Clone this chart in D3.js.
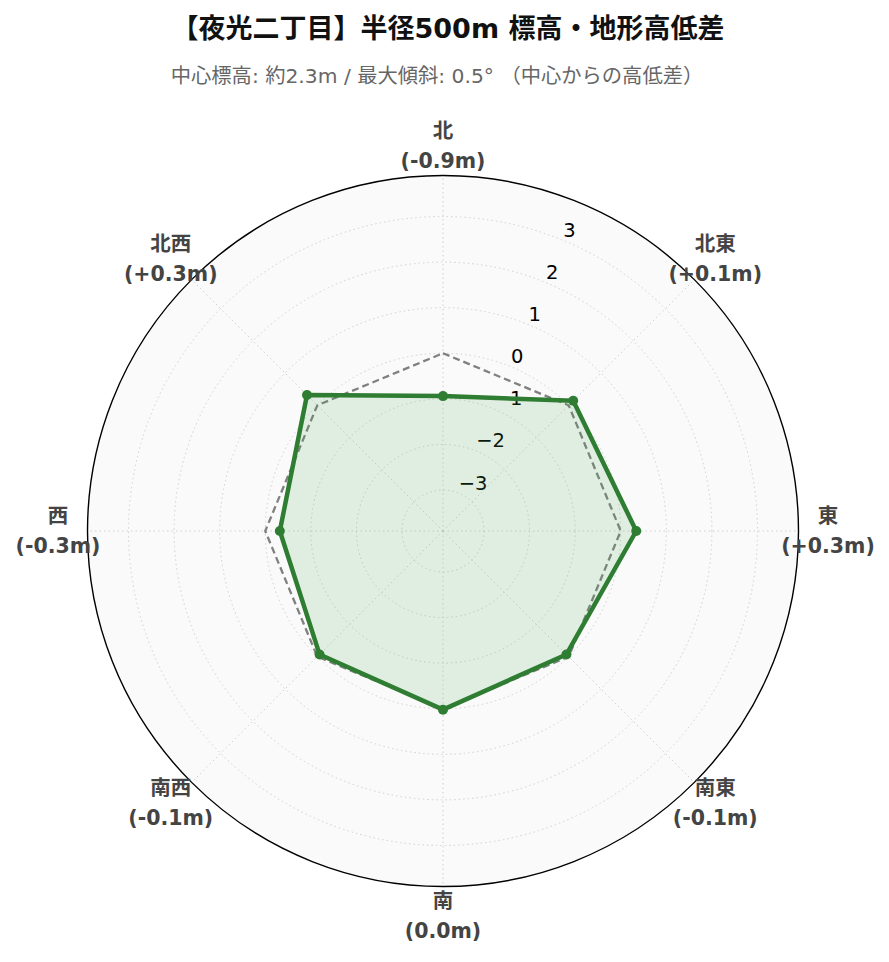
<!DOCTYPE html>
<html>
<head>
<meta charset="utf-8">
<script src="https://cdn.jsdelivr.net/npm/d3@7"></script>
<style>
  html, body { margin: 0; padding: 0; background: #ffffff; }
  svg { display: block; }
  text { font-family: "DejaVu Sans", "Noto Sans CJK JP", sans-serif; }
</style>
</head>
<body>
<svg id="chart" width="889" height="962"></svg>
<script>
// ---- data ----
const directions = ["北", "北東", "東", "南東", "南", "南西", "西", "北西"];
const heightDiff = [-0.94, 0.14, 0.34, -0.07, 0.02, -0.07, -0.32, 0.32];
const referenceLevel = [0, 0, 0, 0, 0, 0, 0, 0];
const radialTicks = [-3, -2, -1, 0, 1, 2, 3];
const radialRange = [-3.9, 3.9];
const titleText = "【夜光二丁目】半径500m 標高・地形高低差";
const subtitleText = "中心標高: 約2.3m / 最大傾斜: 0.5° （中心からの高低差）";

// ---- layout ----
const W = 889, H = 962;
const cx = 443, cy = 531, R = 355.5;
const svg = d3.select("#chart");
svg.append("rect").attr("width", W).attr("height", H).attr("fill", "#ffffff");

const r = d3.scaleLinear().domain(radialRange).range([0, R]);
// angle for index i: clockwise from north
const angleOf = (i) => (i * 360 / directions.length) * Math.PI / 180;
const px = (i, v) => cx + r(v) * Math.sin(angleOf(i));
const py = (i, v) => cy - r(v) * Math.cos(angleOf(i));

const g = svg.append("g");

// background disk
g.append("circle").attr("cx", cx).attr("cy", cy).attr("r", R).attr("fill", "#fafafa");

// grid circles
g.selectAll("circle.grid").data(radialTicks).join("circle")
  .attr("class", "grid")
  .attr("cx", cx).attr("cy", cy).attr("r", d => r(d))
  .attr("fill", "none").attr("stroke", "#d0d0d0").attr("stroke-width", 1)
  .attr("stroke-dasharray", "1.5,3");

// radial spokes
g.selectAll("line.spoke").data(directions).join("line")
  .attr("class", "spoke")
  .attr("x1", cx).attr("y1", cy)
  .attr("x2", (d, i) => px(i, radialRange[1])).attr("y2", (d, i) => py(i, radialRange[1]))
  .attr("stroke", "#d0d0d0").attr("stroke-width", 1).attr("stroke-dasharray", "1.5,3");

// outer circle
g.append("circle").attr("cx", cx).attr("cy", cy).attr("r", R)
  .attr("fill", "none").attr("stroke", "#000").attr("stroke-width", 1.4);

// radial tick labels at 22.5° from north
const tickAng = 22.5 * Math.PI / 180;
g.selectAll("text.tick").data(radialTicks).join("text")
  .attr("class", "tick")
  .attr("x", d => cx + r(d) * Math.sin(tickAng))
  .attr("y", d => cy - r(d) * Math.cos(tickAng) - 10)
  .attr("dominant-baseline", "central")
  .attr("text-anchor", "start")
  .attr("font-size", 19.5).attr("fill", "#000")
  .text(d => d3.format("")(d).replace("-", "\u2212"));

// reference dashed octagon
const lineGen = d3.line().x(d => d[0]).y(d => d[1]).curve(d3.curveLinearClosed);
g.append("path")
  .attr("d", lineGen(referenceLevel.map((v, i) => [px(i, v), py(i, v)])))
  .attr("fill", "none").attr("stroke", "#808080").attr("stroke-width", 2.3)
  .attr("stroke-dasharray", "7,4");

// data polygon
const pts = heightDiff.map((v, i) => [px(i, v), py(i, v)]);
g.append("path").attr("d", lineGen(pts))
  .attr("fill", "rgba(76,175,80,0.15)")
  .attr("stroke", "#2e7d32").attr("stroke-width", 4.5).attr("stroke-linejoin", "round");
g.selectAll("circle.pt").data(pts).join("circle")
  .attr("class", "pt")
  .attr("cx", d => d[0]).attr("cy", d => d[1]).attr("r", 5)
  .attr("fill", "#2e7d32");

// direction labels
const fmt = v => {
  const rv = Math.round(v * 10) / 10;
  return "(" + (rv > 0 ? "+" : "") + rv.toFixed(1) + "m)";
};
const labelR = 385;
const lab = g.selectAll("text.dir").data(directions).join("text")
  .attr("class", "dir")
  .attr("text-anchor", "middle")
  .attr("font-size", 20.5).attr("font-weight", "bold").attr("fill", "#444");
lab.each(function(d, i) {
  const x = cx + labelR * Math.sin(angleOf(i));
  const y = cy - labelR * Math.cos(angleOf(i));
  const t = d3.select(this);
  t.append("tspan").attr("x", x).attr("y", y - 15).attr("dominant-baseline", "central").text(d);
  t.append("tspan").attr("x", x).attr("y", y + 15).attr("dominant-baseline", "central").text(fmt(heightDiff[i]));
});

// titles
svg.append("text").attr("x", 448).attr("y", 28)
  .attr("text-anchor", "middle").attr("dominant-baseline", "central")
  .attr("font-size", 27).attr("font-weight", "bold").attr("fill", "#111")
  .text(titleText);
svg.append("text").attr("x", 437).attr("y", 76)
  .attr("text-anchor", "middle").attr("dominant-baseline", "central")
  .attr("font-size", 20.3).attr("fill", "#666")
  .text(subtitleText);
</script>
</body>
</html>
